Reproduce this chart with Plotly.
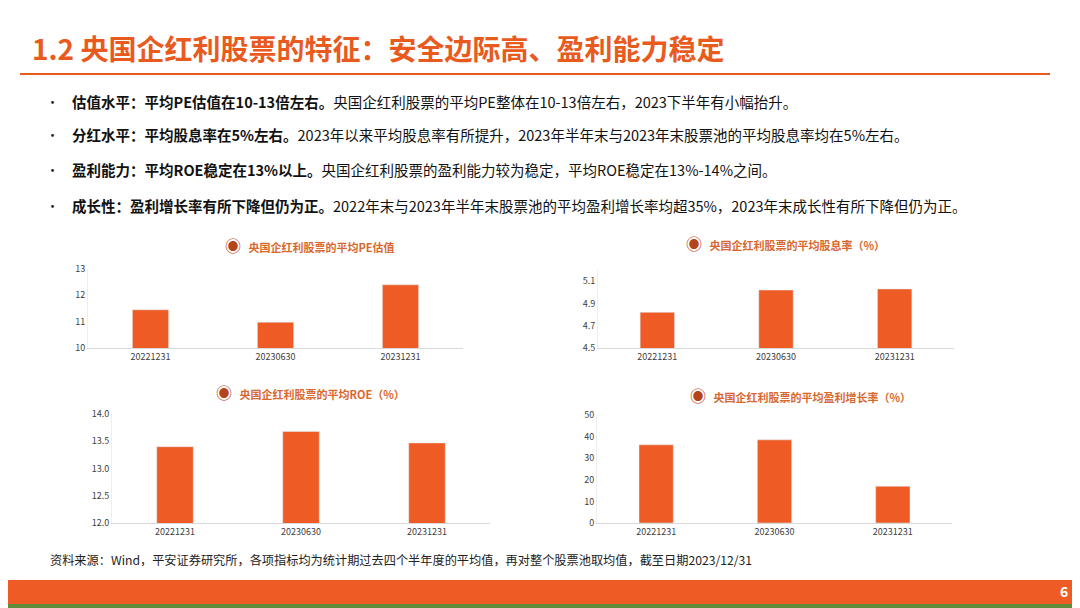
import plotly.graph_objects as go

# ─── Data ─────────────────────────────────────────────
dates = ["20221231", "20230630", "20231231"]
pe_vals = [11.45, 10.98, 12.4]
div_vals = [4.82, 5.02, 5.03]
roe_vals = [13.4, 13.68, 13.47]
growth_vals = [36.2, 38.5, 17.0]

chart_titles = ["央国企红利股票的平均PE估值", "央国企红利股票的平均股息率（%）",
                "央国企红利股票的平均ROE（%）", "央国企红利股票的平均盈利增长率（%）"]

bullets = [
    ("估值水平：平均PE估值在10-13倍左右。", "央国企红利股票的平均PE整体在10-13倍左右，2023下半年有小幅抬升。"),
    ("分红水平：平均股息率在5%左右。", "2023年以来平均股息率有所提升，2023年半年末与2023年末股票池的平均股息率均在5%左右。"),
    ("盈利能力：平均ROE稳定在13%以上。", "央国企红利股票的盈利能力较为稳定，平均ROE稳定在13%-14%之间。"),
    ("成长性：盈利增长率有所下降但仍为正。", "2022年末与2023年半年末股票池的平均盈利增长率均超35%，2023年末成长性有所下降但仍为正。"),
]

W, H = 1080, 608
OFF = 8  # page body margin
BAR = "#EE5B24"
FONT = "Noto Sans CJK SC"

def px(x):
    return (x - OFF) / W

def py(y):
    return 1 - (y - OFF) / H

def note(x, y, text, size, color, xanchor="left"):
    fig.add_annotation(x=px(x), y=py(y), xref="paper", yref="paper",
                       xanchor=xanchor, yanchor="middle", text=text, showarrow=False,
                       font=dict(size=size, color=color, family=FONT))

fig = go.Figure()

panels = [
    # values, x0, x1, ytop, ybot, range, ticks, fmt, title pos
    (pe_vals, 88, 463, 269, 348, [10, 13], [10, 11, 12, 13], "d", (310, 245)),
    (div_vals, 598, 954, 270, 348, [4.5, 5.2], [4.5, 4.7, 4.9, 5.1], ".1f", (785, 243)),
    (roe_vals, 112, 490, 414, 523, [12, 14], [12, 12.5, 13, 13.5, 14], ".1f", (310, 392)),
    (growth_vals, 597, 952, 415, 523, [0, 50], [0, 10, 20, 30, 40, 50], "d", (800, 395)),
]

for i, (vals, x0, x1, yt, yb, rng, ticks, fmt, tpos) in enumerate(panels):
    k = "" if i == 0 else str(i + 1)
    fig.add_trace(go.Bar(x=dates, y=vals, marker_color=BAR, width=0.29,
                         xaxis="x" + k, yaxis="y" + k, showlegend=False))
    fig.update_layout(**{
        "xaxis" + k: dict(domain=[px(x0), px(x1)], anchor="y" + k, showline=True,
                          linecolor="#d9d9d9", tickfont=dict(size=9, color="#404040"),
                          ticks="", fixedrange=True, automargin=False),
        "yaxis" + k: dict(domain=[py(yb), py(yt)], anchor="x" + k, range=rng,
                          tickvals=ticks, tickformat=fmt, showgrid=False,
                          showline=True, linecolor="#eeeeee", automargin=False,
                          tickfont=dict(size=9, color="#404040"), ticks=""),
    })
    note(tpos[0], tpos[1],
         f"<span style='color:#B5441A;font-size:16px'>◉</span>"
         f"&nbsp;&nbsp;&nbsp;<b>{chart_titles[i]}</b>",
         11, "#D9682E", xanchor="center")

# header
note(30, 48, "<b>1.2 央国企红利股票的特征：安全边际高、盈利能力稳定</b>", 28, "#E85A1E")
fig.add_shape(type="line", xref="paper", yref="paper", x0=px(20), x1=px(1050),
              y0=py(74), y1=py(74), line=dict(color="#E85A1E", width=2))

for j, (b, rest) in enumerate(bullets):
    yy = [101, 135, 169, 206][j]
    note(44, yy, "•", 13, "#222")
    note(70, yy, f"<b>{b}</b>{rest}", 14.5, "#111")

note(48, 560, "资料来源：Wind，平安证券研究所，各项指标均为统计期过去四个半年度的平均值，再对整个股票池取均值，截至日期2023/12/31",
     12.2, "#222")

# footer band
fig.add_shape(type="rect", xref="paper", yref="paper", x0=0, x1=1, y0=py(604), y1=py(580),
              fillcolor="#EE5B24", line_width=0, layer="below")
fig.add_shape(type="rect", xref="paper", yref="paper", x0=0, x1=1, y0=0, y1=py(604),
              fillcolor="#5E8C3A", line_width=0, layer="below")
note(1070, 591, "<b>6</b>", 14, "white", xanchor="right")

fig.update_layout(width=W, height=H, margin=dict(l=0, r=0, t=0, b=0, pad=0, autoexpand=False),
                  plot_bgcolor="white", paper_bgcolor="white",
                  font=dict(family=FONT), bargap=0.6)

fig.write_html("out.html")
